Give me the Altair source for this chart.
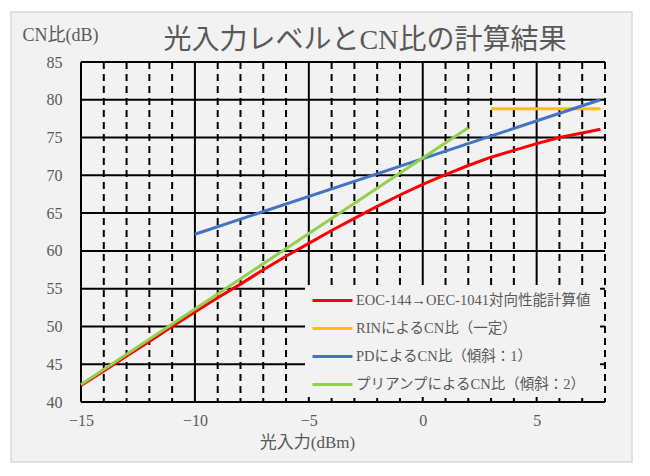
import altair as alt
import pandas as pd

# ---- data ----
series_names = [
    "EOC-144→OEC-1041対向性能計算値",
    "RINによるCN比（一定）",
    "PDによるCN比（傾斜：1）",
    "プリアンプによるCN比（傾斜：2）",
]
series_colors = ["#ff0000", "#ffc000", "#4472c4", "#92d050"]

red_x = [-15, -14, -13, -12, -11, -10, -9, -8, -7, -6, -5, -4, -3, -2, -1, 0, 1, 2, 3, 4, 5, 6, 7, 7.8]
red_y = [42.2, 44.1, 46.1, 48.0, 50.0, 51.9, 53.8, 55.6, 57.5, 59.3, 61.0, 62.7, 64.3, 65.9, 67.4,
         68.8, 70.1, 71.3, 72.4, 73.3, 74.2, 75.0, 75.6, 76.1]
rin_x = [3, 7.8]
rin_y = [78.8, 78.8]
pd_x = [-10, 7.8]
pd_y = [62.2, 80.0]
pre_x = [-15, 2]
pre_y = [42.3, 76.3]

x_major = [-15, -10, -5, 0, 5]
x_minor = [-14, -13, -12, -11, -9, -8, -7, -6, -4, -3, -2, -1, 1, 2, 3, 4, 6, 7, 8]
y_major = [40, 45, 50, 55, 60, 65, 70, 75, 80, 85]

title_text = "光入力レベルとCN比の計算結果"
x_title = "光入力(dBm)"
y_title = "CN比(dB)"

rows = []
for name, xs, ys in zip(series_names, [red_x, rin_x, pd_x, pre_x], [red_y, rin_y, pd_y, pre_y]):
    for i, (a, b) in enumerate(zip(xs, ys)):
        rows.append({"series": name, "x": a, "y": b, "order": i})
df = pd.DataFrame(rows)

FONT = "Liberation Serif, Noto Sans CJK JP"
TXT = "#595959"
BG = "#f2f2f2"
W, H = 524, 340

xscale = alt.Scale(domain=[-15, 8], nice=False, zero=False)
yscale = alt.Scale(domain=[40, 85], nice=False, zero=False)

xaxis = alt.Axis(values=x_major, grid=False, domain=False, ticks=False, zindex=1,
                 labelFlush=False, labelOverlap=False,
                 labelFont=FONT, labelFontSize=16, labelColor=TXT, labelPadding=10,
                 title=x_title, titleFont=FONT, titleFontSize=17, titleColor=TXT,
                 titleFontWeight="normal", titleX=226, titleY=40,
                 titleBaseline="middle", titleAlign="center")
yaxis = alt.Axis(values=y_major, grid=False, domain=False, ticks=False, zindex=1,
                 labelFlush=False, labelOverlap=False,
                 labelFont=FONT, labelFontSize=16, labelColor=TXT, labelPadding=19,
                 title=y_title, titleFont=FONT, titleFontSize=18, titleColor=TXT,
                 titleFontWeight="normal", titleAngle=0, titleX=-59, titleY=-27,
                 titleAlign="left", titleBaseline="middle")

one = pd.DataFrame({"a": [0]})

# chart-area frame
frame = alt.Chart(one).mark_rect(fill=BG, stroke="#d9d9d9", strokeWidth=1.5).encode(
    x=alt.value(-70), x2=alt.value(551), y=alt.value(-50), y2=alt.value(400))

# legend background box (covers gridlines like the original legend)
legend_bg = alt.Chart(one).mark_rect(fill=BG).encode(
    x=alt.value(224), x2=alt.value(519), y=alt.value(223), y2=alt.value(335))

title = alt.Chart(pd.DataFrame({"t": [title_text]})).mark_text(
    font=FONT, fontSize=28, color=TXT, align="center", baseline="middle"
).encode(text="t:N", x=alt.value(284), y=alt.value(-21))

vmajor = alt.Chart(pd.DataFrame({"v": x_major})).mark_rule(color="black", strokeWidth=2).encode(
    x=alt.X("v:Q", scale=xscale, axis=xaxis)
)
vminor = alt.Chart(pd.DataFrame({"v": x_minor})).mark_rule(
    color="black", strokeWidth=2, strokeDash=[7, 5]
).encode(x=alt.X("v:Q", scale=xscale, axis=xaxis))
hmajor = alt.Chart(pd.DataFrame({"v": y_major})).mark_rule(color="black", strokeWidth=2).encode(
    y=alt.Y("v:Q", scale=yscale, axis=yaxis)
)

lines = alt.Chart(df).mark_line(strokeWidth=3).encode(
    x=alt.X("x:Q", scale=xscale, axis=xaxis),
    y=alt.Y("y:Q", scale=yscale, axis=yaxis),
    order="order:Q",
    color=alt.Color("series:N",
                    scale=alt.Scale(domain=series_names, range=series_colors),
                    sort=series_names,
                    legend=alt.Legend(title=None, orient="none", legendX=224, legendY=211,
                                      padding=6,
                                      symbolType="stroke", symbolSize=1600, symbolStrokeWidth=3,
                                      labelFont=FONT, labelFontSize=14.5, labelColor=TXT,
                                      labelOffset=2, rowPadding=0, labelLimit=400)),
)

chart = alt.layer(frame, hmajor, vmajor, vminor, legend_bg, lines, title).properties(
    width=W, height=H,
    autosize=alt.AutoSizeParams(type="none"),
    padding={"left": 73, "top": 54, "right": 30, "bottom": 70},
    background="white",
).configure_view(stroke=None).configure_axis(labelOverlap=False, labelFlush=False)

chart.save("out.html", embed_options={"renderer": "svg", "actions": False})
